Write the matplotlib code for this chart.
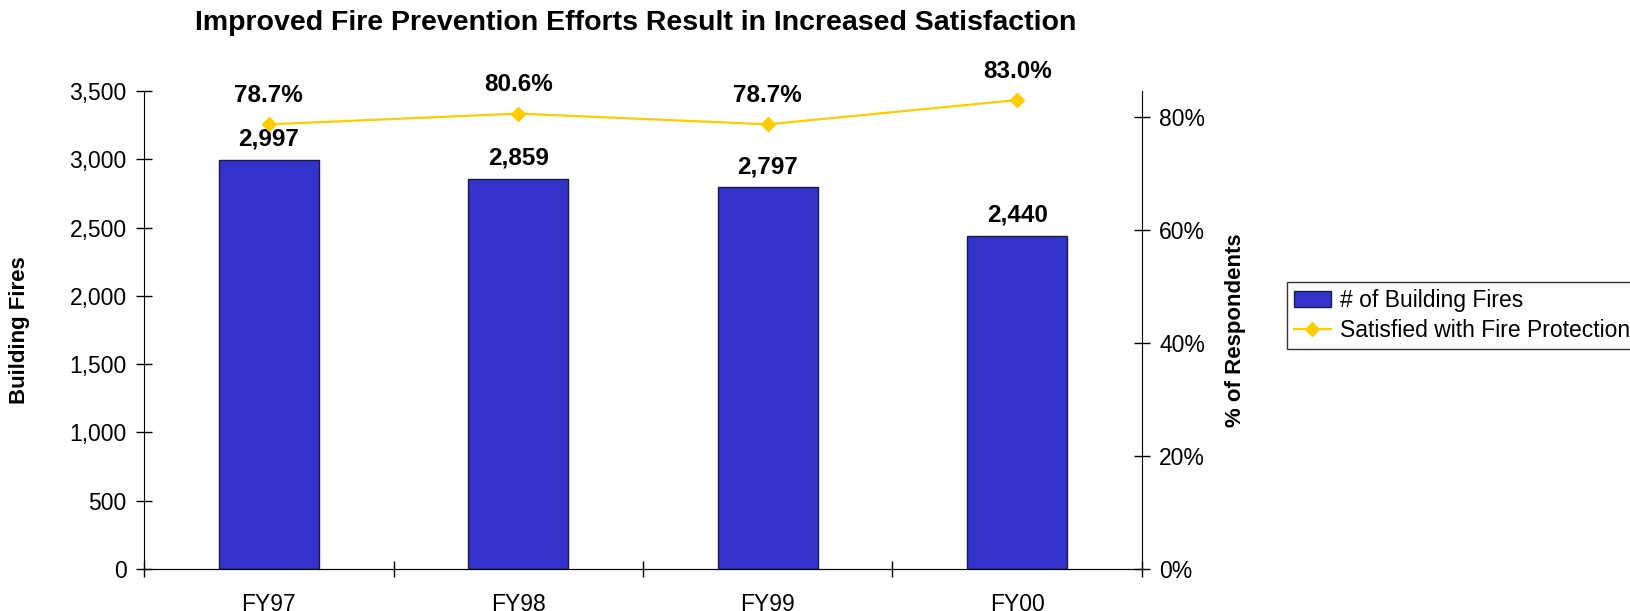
import matplotlib.pyplot as plt
import numpy as np

plt.rcParams['font.family'] = ['Liberation Sans', 'DejaVu Sans']

years = ['FY97', 'FY98', 'FY99', 'FY00']
fires = [2997, 2859, 2797, 2440]
satisfied = [0.787, 0.806, 0.787, 0.830]

fig = plt.figure(figsize=(16.31, 6.11), dpi=100)
ax = fig.add_axes([144 / 1631, 1 - 569 / 611, (1142 - 144) / 1631, (569 - 91) / 611])
x = np.arange(len(years))

ax.bar(x, fires, width=0.4, color='#3333CC', edgecolor='#1a1a40', linewidth=1.0,
       label='# of Building Fires', zorder=2)
for xi, v in zip(x, fires):
    ax.annotate(f'{v:,}', (xi, v), xytext=(0, 10), textcoords='offset points',
                ha='center', va='baseline', fontsize=17.5, fontweight='bold')

ax.set_xlim(-0.5, 3.5)
ax.set_ylim(0, 3500)
ax.set_yticks(np.arange(0, 3501, 500))
ax.set_yticklabels([f'{v:,}' for v in range(0, 3501, 500)], fontsize=16.5)
ax.set_xticks(np.arange(-0.5, 3.6, 1))
ax.set_xticklabels([])
ax.set_xticks(x, minor=True)
ax.set_xticklabels(years, minor=True, fontsize=16.5)
ax.tick_params(axis='x', which='major', direction='inout', length=11, width=1)
ax.tick_params(axis='x', which='minor', length=0, pad=17)
ax.tick_params(axis='y', direction='inout', length=11, width=1, pad=7)
ax.spines['top'].set_visible(False)
ax.spines['right'].set_visible(False)
ax.set_ylabel('Building Fires', fontsize=16, fontweight='bold', labelpad=28)

ax2 = ax.twinx()
ax2.plot(x, satisfied, color='#FFCC00', linewidth=1.6, marker='D', markersize=7,
         label='Satisfied with Fire Protection', zorder=3)
for xi, v in zip(x, satisfied):
    ax2.annotate(f'{v*100:.1f}%', (xi, v), xytext=(0, 16), textcoords='offset points',
                 ha='center', va='baseline', fontsize=17.5, fontweight='bold')
ax2.set_ylim(0, 0.846)
ax2.set_yticks([0, 0.2, 0.4, 0.6, 0.8])
ax2.set_yticklabels(['0%', '20%', '40%', '60%', '80%'], fontsize=16.5)
ax2.tick_params(axis='y', direction='inout', length=11, width=1, pad=7)
ax2.spines['top'].set_visible(False)
ax2.spines['left'].set_visible(False)
ax2.set_ylabel('% of Respondents', fontsize=16, fontweight='bold', labelpad=14)

fig.text(0.39, 1 - 23 / 611, 'Improved Fire Prevention Efforts Result in Increased Satisfaction',
         ha='center', va='center', fontsize=20.5, fontweight='bold')

h1, l1 = ax.get_legend_handles_labels()
h2, l2 = ax2.get_legend_handles_labels()
leg = fig.legend(h1 + h2, l1 + l2, loc='upper left', bbox_to_anchor=(1287 / 1631, 1 - 282 / 611),
                 fontsize=16.5, frameon=True, fancybox=False, edgecolor='black',
                 borderpad=0.3, handlelength=1.6, labelspacing=0.3, handletextpad=0.4,
                 borderaxespad=0)
leg.get_frame().set_linewidth(1)

fig.savefig('out.png', dpi=100)
